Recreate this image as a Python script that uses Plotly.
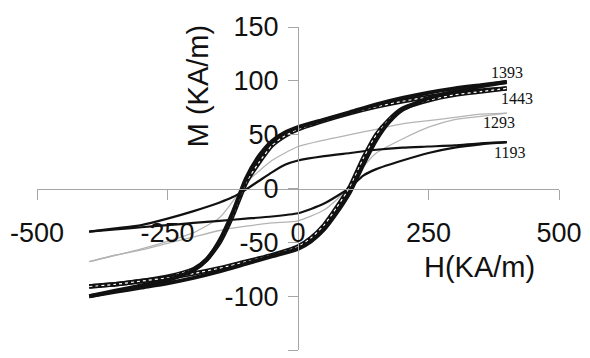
import plotly.graph_objects as go

# ---- data (H in KA/m, M in KA/m) ----
H_DESC_THICK = [400, 350, 300, 250, 200, 150, 100, 50, 0, -25, -50, -75, -100, -125, -150, -175, -200, -250, -300, -350, -400]
M_1393_DESC = [99, 96, 93, 89, 84, 78, 71, 64, 57, 52, 44, 30, 9, -22, -48, -66, -76, -85, -90, -95, -100]
M_1443_DESC = [93, 91, 88, 85, 81, 76, 70, 63, 55, 49, 40, 24, 5, -25, -50, -66, -75, -82, -86, -89, -91]
H_ASC_THICK = [-400, -350, -300, -250, -200, -150, -100, -50, 0, 25, 50, 75, 100, 125, 150, 175, 200, 250, 300, 350, 400]
M_1393_ASC = [-100, -96, -92, -88, -83, -77, -70, -63, -56, -49, -38, -22, -3, 22, 45, 62, 73, 84, 90, 95, 99]
M_1443_ASC = [-91, -89, -86, -83, -79, -74, -68, -62, -54, -46, -34, -17, 2, 28, 50, 64, 74, 82, 87, 90, 93]

H_DESC_1293 = [400, 350, 300, 250, 200, 150, 100, 50, 0, -50, -75, -100, -125, -150, -200, -250, -300, -350, -400]
M_1293_DESC = [70, 69, 66, 63, 60, 55, 50, 45, 39, 26, 16, 5, -12, -27, -41, -49, -56, -62, -68]
H_ASC_1293 = [-400, -350, -300, -250, -200, -150, -100, -50, 0, 50, 75, 100, 125, 150, 200, 250, 300, 350, 400]
M_1293_ASC = [-68, -62, -57, -51, -45, -39, -35, -32, -30, -20, -10, 3, 20, 33, 46, 57, 64, 67, 70]

H_DESC_1193 = [400, 350, 300, 250, 200, 150, 100, 50, 0, -25, -50, -75, -100, -125, -150, -200, -250, -300, -350, -400]
M_1193_DESC = [43, 42, 40, 39, 38, 36, 33, 30, 26, 22, 15, 7, -1, -8, -13, -21, -28, -34, -37, -40]
H_ASC_1193 = [-400, -350, -300, -250, -200, -150, -100, -50, 0, 25, 50, 75, 100, 125, 150, 200, 250, 300, 350, 400]
M_1193_ASC = [-40, -38, -36, -34, -32, -30, -28, -26, -23, -19, -14, -7, 1, 12, 18, 26, 33, 38, 41, 43]

LABELS = ["1393", "1443", "1293", "1193"]
LABEL_H = [400, 420, 386, 405]
LABEL_M = [108, 84, 61, 33]

X_TICKS = [-500, -250, 0, 250, 500]
Y_TICKS = [150, 100, 50, 0, -50, -100, -150]

fig = go.Figure()

def add_branch(x, y, color, width, dots=False):
    fig.add_trace(go.Scatter(x=x, y=y, mode="lines",
                             line=dict(color=color, width=width, shape="spline", smoothing=0.6),
                             showlegend=False, hoverinfo="skip"))
    if dots:
        fig.add_trace(go.Scatter(x=x, y=y, mode="lines",
                                 line=dict(color="white", width=1.2, dash="dot", shape="spline", smoothing=0.6),
                                 showlegend=False, hoverinfo="skip"))

# 1293 (light grey)
add_branch(H_DESC_1293, M_1293_DESC, "#b4b4b4", 1.3)
add_branch(H_ASC_1293, M_1293_ASC, "#b4b4b4", 1.3)
# 1193
add_branch(H_DESC_1193, M_1193_DESC, "#111111", 2.2)
add_branch(H_ASC_1193, M_1193_ASC, "#111111", 2.2)
# 1443
add_branch(H_DESC_THICK, M_1443_DESC, "#111111", 4.5, dots=True)
add_branch(H_ASC_THICK, M_1443_ASC, "#111111", 4.5, dots=True)
# 1393
add_branch(H_DESC_THICK, M_1393_DESC, "#111111", 4)
add_branch(H_ASC_THICK, M_1393_ASC, "#111111", 4)

for t, hx, my in zip(LABELS, LABEL_H, LABEL_M):
    fig.add_annotation(x=hx, y=my, text=t, showarrow=False,
                       xanchor="center", yanchor="middle",
                       font=dict(family="Liberation Serif", size=16, color="#111"))

fig.add_annotation(xref="paper", yref="paper", x=0.3087, y=0.817, text="M (KA/m)",
                   textangle=-90, showarrow=False, xanchor="center", yanchor="middle",
                   font=dict(family="Liberation Sans", size=29, color="#111"))
fig.add_annotation(xref="paper", yref="paper", x=0.848, y=0.257, text="H(KA/m)",
                   showarrow=False, xanchor="center", yanchor="middle",
                   font=dict(family="Liberation Sans", size=29, color="#111"))

axis_common = dict(showgrid=False, zeroline=False, showline=True, linecolor="#a6a6a6",
                   linewidth=1.2, ticks="outside", tickcolor="#a6a6a6", tickwidth=1.2,
                   ticklen=10, anchor="free", position=0.5,
                   tickfont=dict(family="Liberation Sans", size=27, color="#111"))

fig.update_layout(
    width=590, height=358,
    margin=dict(l=37, r=25, t=27, b=8),
    paper_bgcolor="white", plot_bgcolor="white",
    xaxis=dict(range=[-500, 500], tickvals=X_TICKS, ticktext=[str(v) for v in X_TICKS],
               ticklabelstandoff=10, **axis_common),
    yaxis=dict(range=[-150, 150], tickvals=Y_TICKS, ticktext=[str(v) for v in Y_TICKS],
               ticklabelstandoff=4, **axis_common),
)

fig.write_html("out.html")
